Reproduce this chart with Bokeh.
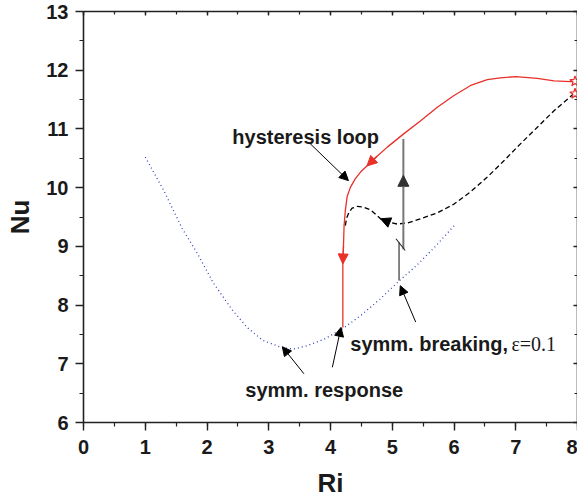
from bokeh.plotting import figure
from bokeh.models import (Arrow, NormalHead, Label, LinearAxis, Range1d,
                          SingleIntervalTicker, CustomJSTickFormatter)
from bokeh.embed import file_html
from bokeh.resources import INLINE

# ---- data ----
sym_ri = [1.0, 1.3, 1.6, 1.85, 2.1, 2.4, 2.65, 2.9, 3.2, 3.4, 3.6, 3.9, 4.2, 4.5, 4.8, 5.1, 5.4, 5.7, 6.0]
sym_nu = [10.52, 9.95, 9.30, 8.87, 8.38, 7.93, 7.62, 7.40, 7.28, 7.25, 7.30, 7.42, 7.60, 7.83, 8.10, 8.40, 8.68, 9.00, 9.35]

hyst_ri = [7.97, 7.62, 7.35, 7.0, 6.75, 6.54, 6.27, 6.0, 5.73, 5.46, 5.19, 4.92, 4.75, 4.59, 4.49, 4.40,
           4.32, 4.27, 4.24, 4.22, 4.21, 4.20, 4.20, 4.20]
hyst_nu = [11.80, 11.82, 11.86, 11.89, 11.87, 11.84, 11.74, 11.57, 11.37, 11.14, 10.92, 10.69, 10.53, 10.37,
           10.27, 10.15, 10.0, 9.85, 9.61, 9.35, 9.0, 8.70, 8.2, 7.62]

brk_ri = [7.94, 7.62, 7.35, 7.08, 6.8, 6.54, 6.27, 6.0, 5.73, 5.46, 5.25, 5.08, 4.95, 4.81, 4.65, 4.53,
          4.43, 4.35, 4.30, 4.26, 4.24]
brk_nu = [11.60, 11.31, 11.03, 10.75, 10.45, 10.18, 9.93, 9.72, 9.57, 9.47, 9.40, 9.38, 9.41, 9.47, 9.62,
          9.67, 9.68, 9.65, 9.58, 9.48, 9.35]

star_ri = [7.96, 7.96]
star_nu = [11.81, 11.60]

# jump indicator (Ri, Nu)
jump_upper = [5.18, 8.95, 10.83]
jump_lower = [5.11, 8.42, 9.07]
jump_slash = [5.06, 9.13, 5.21, 8.93]
jump_head = [10.0, 10.21]

x_ticks = [0, 1, 2, 3, 4, 5, 6, 7, 8]
y_ticks = [6, 7, 8, 9, 10, 11, 12, 13]

FONT = "Liberation Sans"

p = figure(frame_width=494, frame_height=411, output_backend="svg", toolbar_location=None,
           x_range=Range1d(0, 8), y_range=Range1d(6, 13),
           min_border_left=83, min_border_right=0, min_border_top=11, min_border_bottom=60)
p.xgrid.visible = False
p.ygrid.visible = False
p.outline_line_color = None
p.background_fill_color = "white"

def style_axis(ax, labels=True):
    ax.axis_line_color = "#222222"
    ax.axis_line_width = 1.6
    ax.major_tick_line_color = "#222222"
    ax.minor_tick_line_color = "#222222"
    ax.major_tick_line_width = 1.4
    ax.minor_tick_line_width = 1.2
    if labels:
        ax.major_tick_out = 8
        ax.major_tick_in = 0
        ax.minor_tick_out = 4
        ax.minor_tick_in = 0
        ax.major_label_text_font = FONT
        ax.major_label_text_font_style = "bold"
        ax.major_label_text_font_size = "20px"
        ax.major_label_text_color = "#1a1a1a"
        ax.axis_label_text_font = FONT
        ax.axis_label_text_font_style = "bold"
        ax.axis_label_text_font_size = "26px"
        ax.axis_label_text_color = "#1a1a1a"
    else:
        ax.major_tick_out = 0
        ax.major_tick_in = 4
        ax.minor_tick_out = 0
        ax.minor_tick_in = 3
        ax.formatter = CustomJSTickFormatter(code="return ''")
        ax.major_label_standoff = 0

p.xaxis.ticker = SingleIntervalTicker(interval=1, num_minor_ticks=2)
p.yaxis.ticker = SingleIntervalTicker(interval=1, num_minor_ticks=2)
style_axis(p.xaxis[0])
style_axis(p.yaxis[0])
p.xaxis.major_label_standoff = 9
p.yaxis.major_label_standoff = 7
p.xaxis.axis_label = "Ri"
p.yaxis.axis_label = "Nu"
p.xaxis.axis_label_standoff = 11
p.yaxis.axis_label_standoff = 8

top = LinearAxis(ticker=SingleIntervalTicker(interval=1, num_minor_ticks=2))
right = LinearAxis(ticker=SingleIntervalTicker(interval=1, num_minor_ticks=2))
style_axis(top, labels=False)
style_axis(right, labels=False)
p.add_layout(top, "above")
p.add_layout(right, "right")

# curves
p.line(sym_ri, sym_nu, line_color="#3344bb", line_width=1.3, line_dash="1 3")
p.line(brk_ri, brk_nu, line_color="black", line_width=1.3, line_dash="5 3")
p.line(hyst_ri, hyst_nu, line_color="#e8312a", line_width=1.3)
p.scatter(star_ri, star_nu, marker="star", size=11, line_color="#e8312a", fill_color="white", line_width=1.2)

# direction arrows on the curves
for i in (13, 21):
    p.add_layout(Arrow(end=NormalHead(size=10, fill_color="#e8312a", line_color="#e8312a"),
                       x_start=hyst_ri[i - 1], y_start=hyst_nu[i - 1], x_end=hyst_ri[i], y_end=hyst_nu[i],
                       line_color="#e8312a", line_width=1.3))
p.add_layout(Arrow(end=NormalHead(size=10, fill_color="black", line_color="black"),
                   x_start=brk_ri[12], y_start=brk_nu[12], x_end=brk_ri[13], y_end=brk_nu[13],
                   line_color="black", line_width=1.3, line_dash="5 3"))

# jump indicator
p.segment(x0=[jump_upper[0]], y0=[jump_upper[1]], x1=[jump_upper[0]], y1=[jump_upper[2]],
          line_color="#777777", line_width=2)
p.segment(x0=[jump_lower[0]], y0=[jump_lower[1]], x1=[jump_lower[0]], y1=[jump_lower[2]],
          line_color="#444444", line_width=1.3)
p.segment(x0=[jump_slash[0]], y0=[jump_slash[1]], x1=[jump_slash[2]], y1=[jump_slash[3]],
          line_color="#222222", line_width=1.1)
p.add_layout(Arrow(end=NormalHead(size=11, fill_color="#333333", line_color="#333333"),
                   x_start=jump_upper[0], y_start=jump_head[0], x_end=jump_upper[0], y_end=jump_head[1],
                   line_color="#777777", line_width=2))

# text annotations
ann_arrows = [
    (3.65, 10.77, 4.29, 10.12),
    (3.57, 6.83, 3.22, 7.29),
    (4.03, 6.94, 4.17, 7.62),
    (5.38, 7.71, 5.13, 8.33),
]
for xs, ys, xe, ye in ann_arrows:
    p.add_layout(Arrow(end=NormalHead(size=9, fill_color="black", line_color="black"),
                       x_start=xs, y_start=ys, x_end=xe, y_end=ye,
                       line_color="black", line_width=1))

labels = [
    (2.41, 10.86, "hysteresis loop"),
    (2.62, 6.56, "symm. response"),
    (4.32, 7.34, "symm. breaking,"),
]
for x, y, t in labels:
    p.add_layout(Label(x=x, y=y, text=t, text_font=FONT, text_font_style="bold",
                       text_font_size="20px", text_color="#1a1a1a", text_baseline="alphabetic"))
p.add_layout(Label(x=6.93, y=7.34, text="ε=0.1", text_font="Liberation Serif",
                   text_font_size="20px", text_color="#1a1a1a", text_baseline="alphabetic"))

open("out.html", "w").write(file_html(p, INLINE))
